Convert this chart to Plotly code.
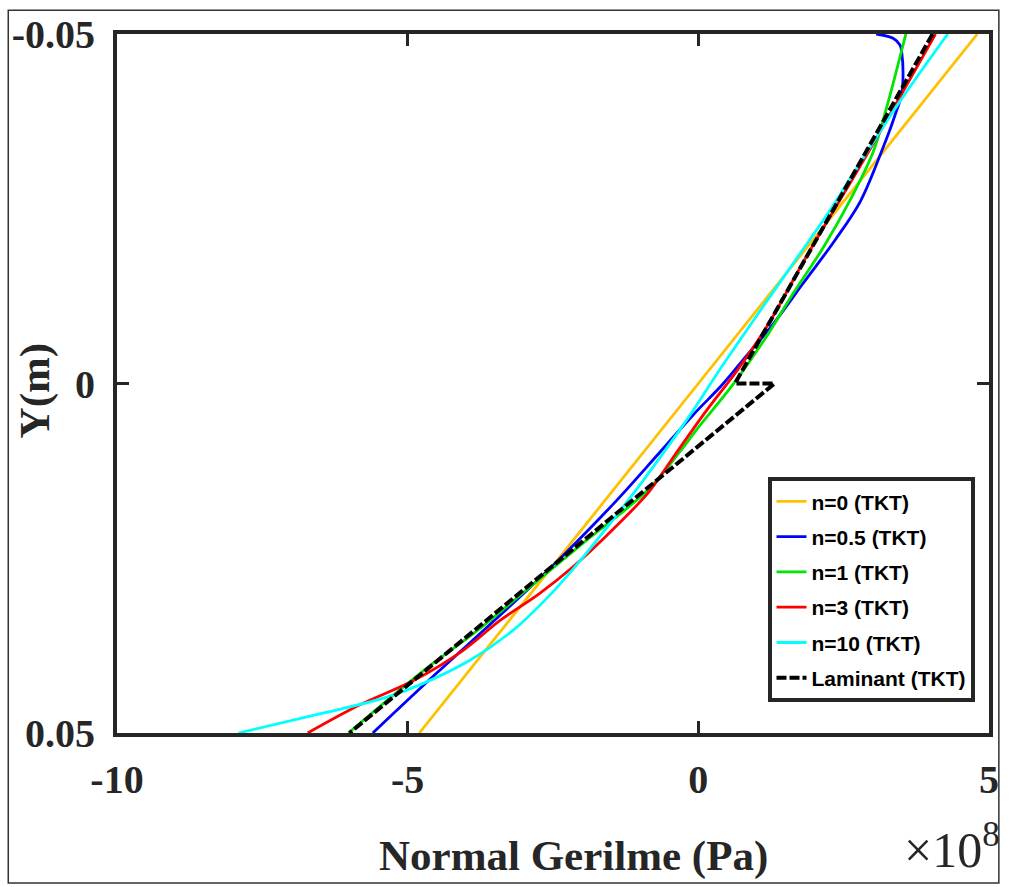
import plotly.graph_objects as go

# Normal stress values in units of 1e8 Pa, Y in metres
y_n0 = [-0.05, 0.0, 0.05]
s_n0 = [4.80, 0.0, -4.80]

y_n05 = [-0.0500, -0.0494, -0.0484, -0.0473, -0.0435, -0.0411, -0.0388, -0.0364, -0.0338,
         -0.0261, -0.0205, -0.0143, -0.0082, -0.0040, 0.0000, 0.0045, 0.0102, 0.0165,
         0.0244, 0.0293, 0.0349, 0.0415, 0.0500]
s_n05 = [3.06, 3.35, 3.47, 3.50, 3.52, 3.49, 3.40, 3.30, 3.18,
         2.79, 2.35, 1.80, 1.26, 0.83, 0.43, -0.09, -0.70, -1.38,
         -2.30, -2.91, -3.64, -4.51, -5.60]

y_n1 = [-0.05, -0.0392, -0.0332, -0.0267, -0.0196, -0.0125, -0.0072, 0.0001, 0.0065,
        0.0098, 0.0155, 0.0222, 0.0264, 0.0301, 0.0354, 0.0411, 0.05]
s_n1 = [3.57, 3.23, 3.01, 2.64, 2.16, 1.60, 1.21, 0.60, -0.02,
        -0.32, -0.90, -1.89, -2.50, -3.04, -3.81, -4.73, -6.02]

y_n3 = [-0.05, -0.0332, -0.0176, -0.0087, -0.0020, 0.0041, 0.0109, 0.0155, 0.0212,
        0.0264, 0.0301, 0.0339, 0.0382, 0.0425, 0.0460, 0.05]
s_n3 = [4.08, 2.93, 1.82, 1.22, 0.68, 0.12, -0.46, -0.85, -1.51,
        -2.18, -2.74, -3.41, -4.05, -4.90, -5.83, -6.72]

y_n10 = [-0.05, -0.0399, -0.0314, -0.0247, -0.0186, -0.0087, -0.0020, 0.0051, 0.0141,
         0.0207, 0.0264, 0.0311, 0.0354, 0.0396, 0.0429, 0.0449, 0.0472, 0.05]
s_n10 = [4.29, 3.43, 2.77, 2.26, 1.75, 0.92, 0.37, -0.19, -0.97,
         -1.58, -2.14, -2.65, -3.20, -3.93, -4.73, -5.37, -6.48, -7.91]

y_lam = [-0.05, 0.0, 0.0, 0.05]
s_lam = [4.03, 0.63, 1.31, -6.00]

names = ["n=0 (TKT)", "n=0.5 (TKT)", "n=1 (TKT)", "n=3 (TKT)", "n=10 (TKT)", "Laminant (TKT)"]
colors = ["#FFC000", "#0000FF", "#00E600", "#FF0000", "#00FFFF", "#000000"]

x_ticks = [-10, -5, 0, 5]
x_ticktext = ["-10", "-5", "0", "5"]
y_ticks = [-0.05, 0, 0.05]
y_ticktext = ["-0.05", "0", "0.05"]

series = [(s_n0, y_n0), (s_n05, y_n05), (s_n1, y_n1), (s_n3, y_n3), (s_n10, y_n10), (s_lam, y_lam)]

fig = go.Figure()
for i, ((sx, sy), nm, col) in enumerate(zip(series, names, colors)):
    is_lam = nm.startswith("Laminant")
    fig.add_trace(go.Scatter(
        x=sx, y=sy, mode="lines", name=nm, legendgroup=str(i),
        line=dict(color=col, width=4 if is_lam else 2.8,
                  dash="10px,3px" if is_lam else "solid",
                  shape="linear" if is_lam else "spline",
                  smoothing=1.0),
    ))

serif = "Liberation Serif"
axis_common = dict(
    showline=True, linewidth=4, linecolor="#262626", mirror="ticks",
    ticks="inside", ticklen=12, tickwidth=3, tickcolor="#262626",
    showgrid=False, zeroline=False,
    tickfont=dict(family=serif, size=40, color="#262626", weight="bold"),
)

fig.update_layout(
    width=1011, height=887,
    margin=dict(l=115, r=14, t=29, b=154),
    paper_bgcolor="white", plot_bgcolor="white",
    showlegend=True,
    legend=dict(
        x=0.746, y=0.366, xanchor="left", yanchor="top",
        bgcolor="white", bordercolor="#262626", borderwidth=4,
        font=dict(family="Liberation Sans", size=21, color="#000000", weight="bold"),
        tracegroupgap=5,
    ),
    xaxis=dict(range=[-10, 5], tickvals=x_ticks, ticktext=x_ticktext,
               ticklabelstandoff=8, **axis_common),
    yaxis=dict(range=[0.05, -0.05], tickvals=y_ticks, ticktext=y_ticktext,
               ticklabelstandoff=10, **axis_common),
)

fig.add_annotation(text="Normal Gerilme (Pa)", xref="paper", yref="paper",
                   x=0.523, y=-0.176, xanchor="center", yanchor="middle", showarrow=False,
                   font=dict(family=serif, size=43, color="#262626", weight="bold"))
fig.add_annotation(text="Y(m)", xref="paper", yref="paper",
                   x=-0.093, y=0.49, xanchor="center", yanchor="middle", showarrow=False,
                   textangle=-90,
                   font=dict(family=serif, size=43, color="#262626", weight="bold"))
fig.add_annotation(text="×10<sup>8</sup>", xref="paper", yref="paper",
                   x=0.957, y=-0.163, xanchor="center", yanchor="middle", showarrow=False,
                   font=dict(family=serif, size=50, color="#262626"))

fig.add_shape(type="rect", xref="paper", yref="paper",
              x0=-0.1247, x1=1.0113, y0=-0.2145, y1=1.034,
              line=dict(color="#333333", width=1.5), layer="below")

fig.write_html("out.html")
